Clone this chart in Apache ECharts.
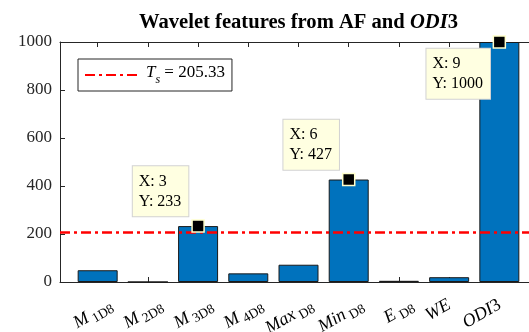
<!DOCTYPE html>
<html>
<head>
<meta charset="utf-8">
<script src="https://cdn.jsdelivr.net/npm/echarts@6/dist/echarts.min.js"></script>
<style>
  html, body { margin: 0; padding: 0; background: #fff; overflow: hidden; }
  #chart { width: 540px; height: 332px; }
</style>
</head>
<body>
<div id="chart"></div>
<script>
// Feature names (TeX-like: base_{subscript} or base followed by digits)
const categories = ['M_{1D8}', 'M_{2D8}', 'M_{3D8}', 'M_{4D8}', 'Max_{D8}', 'Min_{D8}', 'E_{D8}', 'WE', 'ODI3'];
// Feature values per category
const featureValues = [49, 0, 233, 36, 72, 427, 5, 20, 1000];
// Categories (1-based) carrying a data tip
const tipIndices = [3, 6, 9];
// Selection threshold
const threshold = 205.33;
// Y-axis ticks
const yTicks = [0, 200, 400, 600, 800, 1000];

const SERIF = '"Liberation Serif", "Times New Roman", serif';
const AXIS_COLOR = '#262626';
const xPositions = categories.map((_, i) => i + 1);

const chart = echarts.init(document.getElementById('chart'), null, { renderer: 'canvas' });

// Turn 'M_{1D8}' / 'ODI3' into rich text fragments
function richLabel(name) {
  let m = name.match(/^([A-Za-z]+)_\{(.+)\}$/);
  if (m) return { text: '{i|' + m[1] + '}{s| ' + m[2] + '}', sub: true };
  m = name.match(/^([A-Za-z]+)(\d*)$/);
  if (m) return { text: '{i|' + m[1] + '}' + (m[2] ? '{u|' + m[2] + '}' : ''), sub: false };
  return { text: '{u|' + name + '}', sub: false };
}

const labelRich = {
  i: { fontFamily: SERIF, fontSize: 18, fontStyle: 'italic', color: AXIS_COLOR, lineHeight: 21, verticalAlign: 'top' },
  u: { fontFamily: SERIF, fontSize: 18, color: AXIS_COLOR, lineHeight: 21, verticalAlign: 'top' },
  s: { fontFamily: SERIF, fontSize: 13.5, color: AXIS_COLOR, lineHeight: 13, verticalAlign: 'bottom' }
};

const tipLabelBase = {
  show: true,
  formatter: p => '{v|X: ' + p.value[0] + '}\n{v|Y: ' + p.value[1] + '}',
  align: 'right',
  verticalAlign: 'bottom',
  position: [-3, -3],
  backgroundColor: '#ffffe1',
  borderColor: '#d2d2d2',
  borderWidth: 1,
  padding: [5, 7, 5, 6],
  rich: {
    v: { align: 'left', lineHeight: 20, fontFamily: SERIF, fontSize: 16, color: '#000' }
  }
};

const tipData = tipIndices.map(idx => {
  const val = featureValues[idx - 1];
  const item = { value: [idx, val] };
  // tip at the top of the axes hangs below its point
  if (val >= yTicks[yTicks.length - 1]) {
    item.label = { position: [-2.6, 13.6], verticalAlign: 'top' };
  }
  return item;
});

const option = {
  animation: false,
  backgroundColor: '#fff',
  title: {
    text: '{b|Wavelet features from AF and }{bi|ODI}{b|3}',
    left: 139,
    top: 12,
    padding: 0,
    textStyle: {
      rich: {
        b: { fontFamily: SERIF, fontSize: 20.6, fontWeight: 'bold', color: '#000', lineHeight: 22 },
        bi: { fontFamily: SERIF, fontSize: 20.6, fontWeight: 'bold', fontStyle: 'italic', color: '#000', lineHeight: 22 }
      }
    }
  },
  legend: {
    left: 78,
    top: 59,
    padding: [5, 7, 5, 6],
    itemWidth: 56,
    itemHeight: 14,
    borderColor: AXIS_COLOR,
    borderWidth: 1,
    backgroundColor: '#fff',
    data: ['Ts'],
    itemStyle: { opacity: 0 },
    formatter: () => '{t|T}{s|s}{r| = ' + threshold.toFixed(2) + '}',
    textStyle: {
      rich: {
        t: { fontFamily: SERIF, fontSize: 17, fontStyle: 'italic', color: '#000', lineHeight: 22, verticalAlign: 'top' },
        s: { fontFamily: SERIF, fontSize: 12, fontStyle: 'italic', color: '#000', lineHeight: 12, verticalAlign: 'bottom' },
        r: { fontFamily: SERIF, fontSize: 17, color: '#000', lineHeight: 22, verticalAlign: 'top' }
      }
    }
  },
  grid: { left: 60, top: 42, right: 3, height: 240 },
  xAxis: [
    {
      type: 'value', position: 'bottom', min: 0.25, max: 9.75,
      axisLine: { show: true, onZero: false, lineStyle: { color: AXIS_COLOR, width: 1 } },
      axisTick: { show: true, inside: true, length: 5, customValues: xPositions, lineStyle: { color: AXIS_COLOR } },
      axisLabel: { show: false },
      splitLine: { show: false }
    },
    {
      type: 'value', position: 'top', min: 0.25, max: 9.75,
      axisLine: { show: true, onZero: false, lineStyle: { color: AXIS_COLOR, width: 1 } },
      axisTick: { show: true, inside: true, length: 5, customValues: xPositions, lineStyle: { color: AXIS_COLOR } },
      axisLabel: { show: false },
      splitLine: { show: false }
    }
  ],
  yAxis: {
    type: 'value', min: yTicks[0], max: yTicks[yTicks.length - 1], interval: 200,
    axisLine: { show: true, lineStyle: { color: AXIS_COLOR, width: 1 } },
    axisTick: { show: true, inside: true, length: 5, lineStyle: { color: AXIS_COLOR } },
    axisLabel: { margin: 8, fontFamily: SERIF, fontSize: 17, color: AXIS_COLOR, formatter: v => String(v) },
    splitLine: { show: false }
  },
  series: [
    {
      type: 'bar',
      name: 'features',
      xAxisIndex: 0,
      data: featureValues.map((v, i) => [xPositions[i], v]),
      barWidth: 40,
      itemStyle: { color: '#0072BD', borderColor: '#1a1a1a', borderWidth: 1 },
      z: 2
    },
    {
      type: 'line',
      name: 'Ts',
      data: [],
      symbol: 'none',
      lineStyle: { color: '#ff0000', width: 2.5, type: [10, 4, 3, 4] },
      itemStyle: { color: '#ff0000' },
      markLine: {
        silent: true,
        symbol: 'none',
        label: { show: false },
        lineStyle: { color: '#ff0000', width: 2.5, type: [10, 4, 3, 4] },
        data: [{ yAxis: threshold }]
      },
      z: 4
    },
    {
      type: 'scatter',
      name: 'tips',
      data: tipData,
      symbol: 'rect',
      symbolSize: 12,
      itemStyle: { color: '#000', borderColor: '#ffffcc', borderWidth: 1.5, opacity: 1 },
      label: tipLabelBase,
      z: 6
    }
  ]
};

chart.setOption(option);

// Rotated category labels placed at the tick positions of the bottom axis
const axisY = chart.convertToPixel({ yAxisIndex: 0 }, 0);
const labelGraphics = categories.map((name, i) => {
  const r = richLabel(name);
  const x = chart.convertToPixel({ xAxisIndex: 0 }, xPositions[i]);
  return {
    type: 'text',
    x: x + (r.sub ? 14 : 1),
    y: axisY + 23,
    rotation: Math.PI / 6,
    silent: true,
    style: {
      text: r.text,
      rich: labelRich,
      align: 'right',
      verticalAlign: 'middle'
    }
  };
});
chart.setOption({ graphic: labelGraphics });
</script>
</body>
</html>
